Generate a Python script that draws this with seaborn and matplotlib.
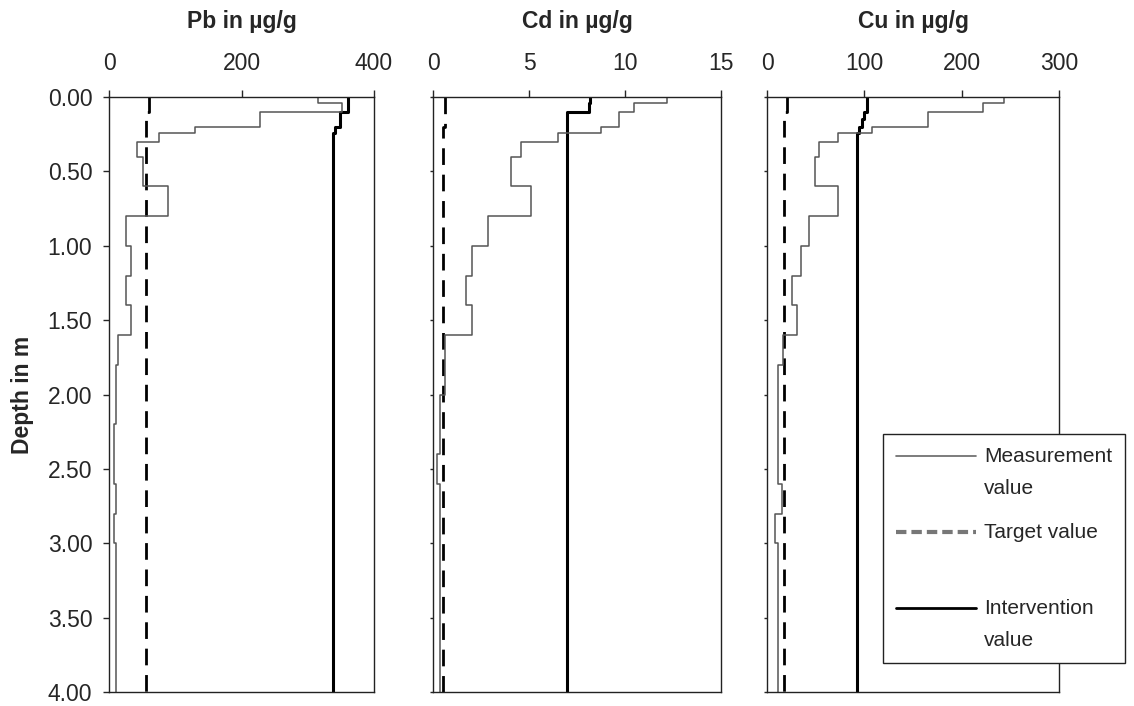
import numpy as np
import pandas as pd
import matplotlib
matplotlib.use("Agg")
import matplotlib.pyplot as plt
from matplotlib.lines import Line2D
import seaborn as sns

# ------------------------------------------------------------
# data (layer top depth in m -> value)
# ------------------------------------------------------------
layer_top = [0.00, 0.04, 0.10, 0.20, 0.24, 0.30, 0.40, 0.60, 0.80, 1.00,
             1.20, 1.40, 1.60, 1.80, 2.00, 2.20, 2.40, 2.60, 2.80, 3.00]
bottom_depth = 4.00

pb_meas = [315, 351, 228, 130, 75, 42, 52, 89, 26, 33,
           26, 33, 13, 10, 10, 7, 7, 11, 7, 10]
cd_meas = [12.2, 10.45, 9.7, 8.75, 6.5, 4.6, 4.05, 5.1, 2.85, 2.05,
           1.7, 2.05, 0.6, 0.6, 0.35, 0.35, 0.22, 0.35, 0.35, 0.35]
cu_meas = [243, 222, 165, 108, 73, 53, 49, 73, 43, 35,
           26, 31, 16, 11, 11, 11, 11, 15, 8.5, 11]

pb_target_top = [0.00, 0.10]
pb_target = [61, 56]
cd_target_top = [0.00, 0.20]
cd_target = [0.65, 0.52]
cu_target_top = [0.00, 0.10]
cu_target = [20.5, 17.8]

pb_interv_top = [0.00, 0.10, 0.20, 0.24]
pb_interv = [361, 348, 341, 338]
cd_interv_top = [0.00, 0.04, 0.10]
cd_interv = [8.2, 8.1, 6.97]
cu_interv_top = [0.00, 0.10, 0.15, 0.20, 0.24]
cu_interv = [103, 100, 97.5, 95, 92.5]

titles = ["Pb in µg/g", "Cd in µg/g", "Cu in µg/g"]
xlims = [(0, 400), (0, 15), (0, 300)]
xticks = [[0, 200, 400], [0, 5, 10, 15], [0, 100, 200, 300]]
yticks = [0.0, 0.5, 1.0, 1.5, 2.0, 2.5, 3.0, 3.5, 4.0]


def step_frame(tops, values):
    # one point per layer top, plus the bottom with the last value repeated
    return pd.DataFrame({"depth": list(tops) + [bottom_depth],
                         "value": list(values) + [values[-1]]})


sns.set_style("ticks")
plt.rcParams['font.family'] = ['Liberation Sans', 'DejaVu Sans']
plt.rcParams['font.size'] = 16

fig = plt.figure(figsize=(11.34, 7.06), dpi=100)
boxes = [(109, 374), (433, 721), (767, 1059)]
top_px, bot_px = 97, 692
W, H = 1134, 706

series = [
    (pb_meas, pb_target_top, pb_target, pb_interv_top, pb_interv),
    (cd_meas, cd_target_top, cd_target, cd_interv_top, cd_interv),
    (cu_meas, cu_target_top, cu_target, cu_interv_top, cu_interv),
]

for i, (l, r) in enumerate(boxes):
    ax = fig.add_axes([l / W, 1 - bot_px / H, (r - l) / W, (bot_px - top_px) / H])
    meas, t_top, t_val, i_top, i_val = series[i]

    sns.lineplot(data=step_frame(t_top, t_val), x="value", y="depth", orient="y",
                 estimator=None, drawstyle="steps-pre", color="black",
                 lw=2.0, linestyle=(0, (6, 3.5)), ax=ax)
    sns.lineplot(data=step_frame(i_top, i_val), x="value", y="depth", orient="y",
                 estimator=None, drawstyle="steps-pre", color="black",
                 lw=2.2, ax=ax)
    sns.lineplot(data=step_frame(layer_top, meas), x="value", y="depth", orient="y",
                 estimator=None, drawstyle="steps-pre", color="#555555",
                 lw=1.1, ax=ax)

    ax.set_xlim(*xlims[i])
    ax.set_ylim(4.0, 0.0)
    ax.set_xticks(xticks[i])
    ax.set_yticks(yticks)
    ax.xaxis.tick_top()
    ax.tick_params(axis="x", length=5, width=1, pad=11, labelsize=16.5)
    ax.set_xlabel("")
    ax.set_title(titles[i], fontweight="bold", fontsize=16.5, pad=17)
    for s in ax.spines.values():
        s.set_visible(True)
        s.set_color("#222222")
        s.set_linewidth(1.0)
    if i == 0:
        ax.set_yticklabels([f"{v:.2f}" for v in yticks])
        ax.tick_params(axis="y", length=4, width=1, pad=8, labelsize=16.5)
        ax.set_ylabel("Depth in m", fontweight="bold", fontsize=16.5, labelpad=10)
    else:
        ax.set_yticklabels([])
        ax.tick_params(axis="y", length=2.5, width=1)
        ax.set_ylabel("")

handles = [
    Line2D([], [], color="#666666", lw=1.2),
    Line2D([], [], color="#777777", lw=3, linestyle=(0, (2.5, 1.2))),
    Line2D([], [], color="black", lw=2),
]
labels = ["Measurement\nvalue", "Target value\n", "Intervention\nvalue"]
leg_fs = 15
leg_ls = 1.88
leg = fig.legend(handles, labels, loc="upper left",
                 bbox_to_anchor=(883 / W, 1 - 434 / H), fontsize=leg_fs,
                 frameon=True, fancybox=False, edgecolor="#222222",
                 framealpha=1, handlelength=3.85, handletextpad=0.4,
                 labelspacing=1.2, borderpad=0.6, borderaxespad=0)
leg.get_frame().set_linewidth(1.0)
for t in leg.get_texts():
    t.set_linespacing(leg_ls)
# put each handle level with the first line of its two-line label
shift = 0.5 * leg_ls * leg_fs * 0.84
for ln in leg.get_lines():
    ln.set_ydata(np.asarray(ln.get_ydata()) + shift)

fig.savefig("out.png", dpi=100)
